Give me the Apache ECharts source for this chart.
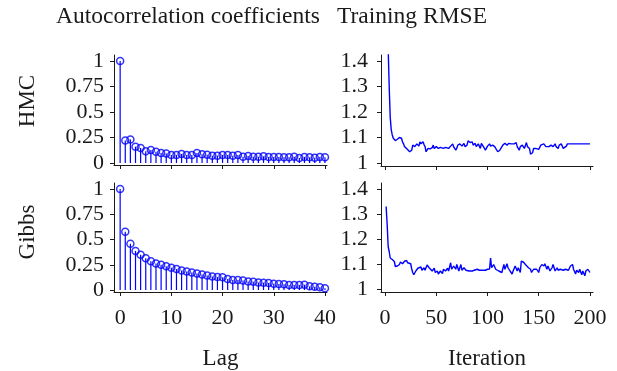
<!DOCTYPE html>
<html lang="en">
<head>
    <meta charset="UTF-8">
    <title>Autocorrelation and training RMSE</title>
    <script src="https://cdn.jsdelivr.net/npm/echarts@6/dist/echarts.min.js"></script>
</head>
<body style="margin:0; background:#fff">
    <div id="main" style="width: 617px; height:371px"></div>
    <script>
        var myEcharts = echarts.init(document.getElementById('main'))

        // autocorrelation, lag 0..40
        var lags = [0, 1, 2, 3, 4, 5, 6, 7, 8, 9, 10, 11, 12, 13, 14, 15, 16, 17, 18, 19, 20,
            21, 22, 23, 24, 25, 26, 27, 28, 29, 30, 31, 32, 33, 34, 35, 36, 37, 38, 39, 40]
        var hmcAcf = [1, 0.22, 0.23, 0.16, 0.147, 0.114, 0.127, 0.11, 0.098, 0.094, 0.078,
            0.078, 0.088, 0.078, 0.078, 0.098, 0.085, 0.081, 0.072, 0.072, 0.078,
            0.078, 0.072, 0.078, 0.062, 0.068, 0.062, 0.062, 0.065, 0.059, 0.059,
            0.059, 0.055, 0.055, 0.062, 0.049, 0.059, 0.055, 0.052, 0.059, 0.055]
        var gibbsAcf = [1, 0.577, 0.459, 0.387, 0.348, 0.315, 0.285, 0.262, 0.249, 0.236, 0.22,
            0.207, 0.193, 0.184, 0.174, 0.164, 0.154, 0.144, 0.134, 0.128, 0.125,
            0.108, 0.098, 0.098, 0.095, 0.085, 0.082, 0.075, 0.072, 0.069, 0.062,
            0.059, 0.056, 0.049, 0.049, 0.049, 0.052, 0.036, 0.033, 0.026, 0.016]

        // training RMSE per iteration
        var hmcIter = [1, 2, 3, 4, 5, 6, 7, 8, 9, 10, 12, 14, 15, 16, 17, 18, 19, 20, 21, 22, 24, 25, 26, 27, 28, 29, 30,
            31, 32, 33, 34, 35, 36, 37, 38, 39, 40, 41, 42, 43, 44, 45, 46, 47, 48, 49, 50, 52, 54, 55, 57, 59, 60,
            62, 64, 66, 67, 68, 69, 70, 71, 73, 75, 77, 78, 80, 81, 83, 85, 86, 88, 89, 91, 93, 94, 96, 98, 100,
            102, 103, 105, 107, 108, 110, 112, 113, 115, 117, 118, 119, 121, 123, 124, 126, 128, 129, 131, 132,
            134, 136, 138, 139, 141, 142, 143, 144, 145, 147, 150, 152, 153, 155, 157, 158, 160, 162, 164, 166,
            167, 169, 170, 172, 174, 175, 177, 178, 181, 200]
        var hmcRmse = [2.0, 1.75, 1.45, 1.3, 1.18, 1.13, 1.11, 1.097, 1.1, 1.088, 1.093, 1.1, 1.095, 1.097, 1.083, 1.075,
            1.064, 1.06, 1.057, 1.05, 1.044, 1.046, 1.05, 1.07, 1.066, 1.064, 1.07,
            1.075, 1.068, 1.066, 1.083, 1.075, 1.07, 1.083, 1.072, 1.064, 1.044, 1.05, 1.057, 1.064, 1.055, 1.048,
            1.06, 1.07, 1.057, 1.06, 1.064, 1.057, 1.061, 1.058, 1.057, 1.061, 1.055,
            1.057, 1.066, 1.075, 1.063, 1.057, 1.05, 1.058, 1.07, 1.075, 1.066, 1.077, 1.064, 1.07, 1.087, 1.08,
            1.083, 1.07, 1.077, 1.064, 1.075, 1.057, 1.077, 1.064, 1.05, 1.066,
            1.075, 1.066, 1.07, 1.064, 1.057, 1.044, 1.05, 1.057, 1.07, 1.077, 1.083, 1.07, 1.077, 1.075, 1.077,
            1.075, 1.08, 1.064, 1.05, 1.064,
            1.07, 1.057, 1.08, 1.064, 1.057, 1.035, 1.035, 1.04, 1.057, 1.057, 1.053, 1.07, 1.064, 1.075, 1.064,
            1.07, 1.064, 1.07, 1.064, 1.075,
            1.064, 1.057, 1.07, 1.075, 1.057, 1.064, 1.066, 1.075, 1.075, 1.075]

        var gibbsIter = [1, 2, 3, 4, 5, 6, 7, 8, 9, 10, 11, 12, 14, 15, 16, 17, 18, 19, 20, 21, 22, 23, 25, 26, 27, 28,
            29, 30, 31, 32, 33, 35, 36, 38, 39, 40, 41, 43, 44, 46, 48, 49, 51, 52, 54, 56, 57, 59, 61, 62, 64, 65,
            67, 69, 70, 72, 74, 75, 77, 79, 80, 82, 83, 85, 87, 88, 90, 92, 93, 95, 96, 98, 100, 101, 102, 103,
            104, 106, 108, 109, 111, 112, 114, 116, 117, 119, 120, 122, 124, 125, 127, 129, 130, 132, 133, 135,
            137, 138, 140, 142, 143, 145, 146, 148, 150, 151, 153, 155, 156, 158, 159, 161, 163, 164, 166, 168,
            169, 171, 172, 174, 176, 177, 179, 181, 183, 184, 186, 187, 189, 190, 192, 193, 195, 196, 198, 200]
        var gibbsRmse = [1.33, 1.26, 1.17, 1.15, 1.124, 1.12, 1.118, 1.121, 1.11, 1.09, 1.085, 1.092, 1.098, 1.108,
            1.111, 1.101, 1.108, 1.111, 1.105, 1.114, 1.105, 1.098, 1.101, 1.08, 1.066, 1.057,
            1.065, 1.072, 1.08, 1.083, 1.075, 1.088, 1.075, 1.085, 1.075, 1.072, 1.096, 1.085, 1.092, 1.072, 1.083,
            1.066, 1.072, 1.06, 1.072, 1.062, 1.079, 1.072, 1.083, 1.072, 1.105, 1.079,
            1.092, 1.079, 1.098, 1.072, 1.098, 1.075, 1.085, 1.075, 1.079, 1.072, 1.079, 1.072, 1.075, 1.072, 1.079,
            1.075, 1.079, 1.075, 1.083, 1.075, 1.079, 1.075, 1.08, 1.124,
            1.085, 1.098, 1.079, 1.085, 1.072, 1.079, 1.066, 1.098, 1.079, 1.101, 1.085, 1.072, 1.06, 1.072, 1.092,
            1.072, 1.085, 1.066, 1.111, 1.108,
            1.098, 1.105, 1.085, 1.079, 1.066, 1.079, 1.072, 1.079, 1.066, 1.085, 1.098, 1.092, 1.101, 1.079, 1.092,
            1.072, 1.085, 1.098, 1.072, 1.085,
            1.075, 1.079, 1.072, 1.075, 1.079, 1.072, 1.075, 1.092, 1.098, 1.079, 1.06, 1.075, 1.066, 1.079, 1.057,
            1.072, 1.053, 1.072, 1.079, 1.066]

        var lagTicks = [0, 10, 20, 30, 40]
        var iterTicks = [0, 50, 100, 150, 200]
        var acfTicks = [0, 0.25, 0.5, 0.75, 1]
        var rmseTicks = [1, 1.1, 1.2, 1.3, 1.4]

        var FONT = '"Liberation Serif", "DejaVu Serif", serif'
        var INK = '#1a1a1a'
        var BLUE = '#0000ff'

        function zip(xs, ys) {
            return xs.map(function (x, i) { return [x, ys[i]] })
        }

        // one value axis in the pgfplots look: left/bottom line, outward ticks, no grid
        function axis(gridIndex, min, max, ticks, showLabels, margin, extra) {
            var a = {
                type: 'value',
                gridIndex: gridIndex,
                min: min,
                max: max,
                splitLine: { show: false },
                axisLine: { show: true, onZero: false, lineStyle: { color: INK, width: 1 } },
                axisTick: { show: true, customValues: ticks, length: 4, lineStyle: { color: INK, width: 1 } },
                axisLabel: { show: showLabels, customValues: ticks, fontFamily: FONT, fontSize: 22, color: INK, margin: margin },
                nameTextStyle: { fontFamily: FONT, fontSize: 23, color: INK }
            }
            return Object.assign(a, extra || {})
        }

        var option = {
            animation: false,
            grid: [
                { left: 114, top: 55, width: 213, height: 110 },
                { left: 114, top: 183, width: 213, height: 110 },
                { left: 381, top: 55, width: 212, height: 111 },
                { left: 381, top: 183, width: 212, height: 111 }
            ],
            xAxis: [
                axis(0, -1.2, 40.4, lagTicks, false, 15),
                axis(1, -1.2, 40.4, lagTicks, true, 15, { name: 'Lag', nameLocation: 'middle', nameGap: 55 }),
                axis(2, -4, 203, iterTicks, false, 15),
                axis(3, -4, 203, iterTicks, true, 15, { name: 'Iteration', nameLocation: 'middle', nameGap: 55 })
            ],
            yAxis: [
                axis(0, -0.02, 1.06, acfTicks, true, 10),
                axis(1, -0.02, 1.06, acfTicks, true, 10),
                axis(2, 0.988, 1.424, rmseTicks, true, 13),
                axis(3, 0.988, 1.424, rmseTicks, true, 13)
            ],
            graphic: [
                { type: 'text', x: 188, y: 17, style: { text: 'Autocorrelation coefficients', font: '23.5px ' + FONT, fill: INK, textAlign: 'center', textVerticalAlign: 'middle' } },
                { type: 'text', x: 412, y: 17, style: { text: 'Training RMSE', font: '23.5px ' + FONT, fill: INK, textAlign: 'center', textVerticalAlign: 'middle' } },
                { type: 'text', x: 28, y: 101, rotation: Math.PI / 2, style: { text: 'HMC', font: '23px ' + FONT, fill: INK, textAlign: 'center', textVerticalAlign: 'middle' } },
                { type: 'text', x: 28, y: 232, rotation: Math.PI / 2, style: { text: 'Gibbs', font: '23px ' + FONT, fill: INK, textAlign: 'center', textVerticalAlign: 'middle' } }
            ],
            series: [
                { type: 'bar', xAxisIndex: 0, yAxisIndex: 0, data: zip(lags, hmcAcf), barWidth: 1.2, itemStyle: { color: BLUE } },
                { type: 'scatter', xAxisIndex: 0, yAxisIndex: 0, data: zip(lags, hmcAcf), symbol: 'circle', symbolSize: 7,
                    itemStyle: { color: 'rgba(0,0,0,0)', borderColor: BLUE, borderWidth: 1.5 } },
                { type: 'bar', xAxisIndex: 1, yAxisIndex: 1, data: zip(lags, gibbsAcf), barWidth: 1.2, itemStyle: { color: BLUE } },
                { type: 'scatter', xAxisIndex: 1, yAxisIndex: 1, data: zip(lags, gibbsAcf), symbol: 'circle', symbolSize: 7,
                    itemStyle: { color: 'rgba(0,0,0,0)', borderColor: BLUE, borderWidth: 1.5 } },
                { type: 'line', xAxisIndex: 2, yAxisIndex: 2, data: zip(hmcIter, hmcRmse), showSymbol: false,
                    lineStyle: { color: BLUE, width: 1.4 }, clip: true },
                { type: 'line', xAxisIndex: 3, yAxisIndex: 3, data: zip(gibbsIter, gibbsRmse), showSymbol: false,
                    lineStyle: { color: BLUE, width: 1.4 }, clip: true }
            ]
        }

        myEcharts.setOption(option)
    </script>
</body>
</html>
